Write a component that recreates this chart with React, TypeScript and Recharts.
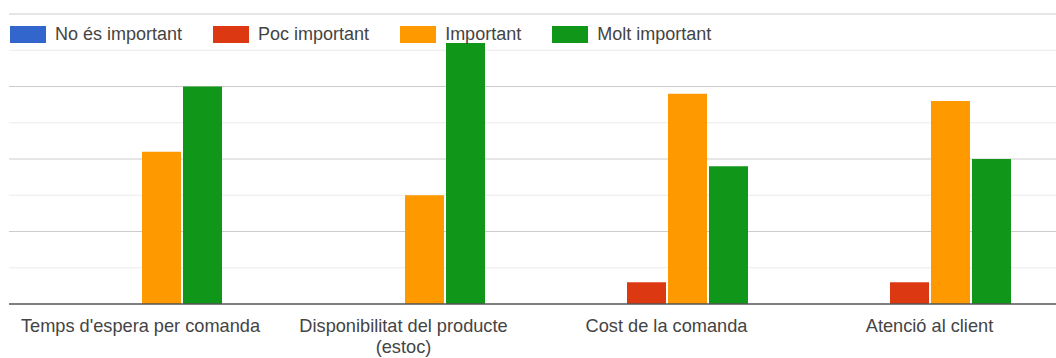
import { BarChart, Bar, XAxis, YAxis, CartesianGrid, Legend } from "recharts";

const categories = [
  "Temps d'espera per comanda",
  "Disponibilitat del producte (estoc)",
  "Cost de la comanda",
  "Atenció al client",
];

const noImportant = [0, 0, 0, 0];
const pocImportant = [0, 0, 3, 3];
const important = [21, 15, 29, 28];
const moltImportant = [30, 36, 19, 20];

const majorTicks = [10, 20, 30, 40];
const minorTicks = [5, 15, 25, 35];

const series = [
  { key: "no", name: "No és important", color: "#3366cc", values: noImportant },
  { key: "poc", name: "Poc important", color: "#dc3912", values: pocImportant },
  { key: "imp", name: "Important", color: "#ff9900", values: important },
  { key: "molt", name: "Molt important", color: "#109618", values: moltImportant },
];

const data = categories.map((name, i) => {
  const row: Record<string, string | number> = { name };
  series.forEach((s) => {
    row[s.key] = s.values[i];
  });
  return row;
});

const FONT = "'Liberation Sans', Arial, sans-serif";
const TEXT = "#444";

// word-wrap long category names onto several lines
function wrap(label: string, maxChars = 28): string[] {
  const lines: string[] = [];
  let cur = "";
  for (const word of label.split(" ")) {
    const next = cur ? cur + " " + word : word;
    if (next.length > maxChars && cur) {
      lines.push(cur);
      cur = word;
    } else {
      cur = next;
    }
  }
  if (cur) lines.push(cur);
  return lines;
}

function CategoryTick({ x, y, payload }: any) {
  const lines = wrap(payload.value);
  return (
    <text x={x} y={y} textAnchor="middle" fill={TEXT} fontSize={18.2} fontFamily={FONT}>
      {lines.map((line, i) => (
        <tspan key={i} x={x} dy={i === 0 ? 20 : 21}>
          {line}
        </tspan>
      ))}
    </text>
  );
}

function LegendRow() {
  return (
    <div style={{ display: "flex", alignItems: "center", fontFamily: FONT, fontSize: 18, color: TEXT }}>
      {series.map((s) => (
        <div key={s.key} style={{ display: "flex", alignItems: "center", marginRight: 31 }}>
          <span style={{ width: 36, height: 17, background: s.color, marginRight: 9, display: "inline-block" }} />
          <span style={{ whiteSpace: "nowrap" }}>{s.name}</span>
        </div>
      ))}
    </div>
  );
}

export default function App() {
  return (
    <div style={{ position: "absolute", left: 0, top: 0, width: 1056, height: 358, overflow: "hidden", background: "#fff" }}>
      <BarChart
        width={1062}
        height={358}
        data={data}
        margin={{ top: 14, right: 1, left: 9, bottom: 24 }}
        barCategoryGap={0}
        barGap={2}
        barSize={39}
      >
        <CartesianGrid vertical={false} horizontalValues={minorTicks} stroke="#ebebeb" />
        <CartesianGrid vertical={false} horizontalValues={majorTicks} stroke="#cccccc" />
        <YAxis hide domain={[0, 40]} ticks={[0, 5, 10, 15, 20, 25, 30, 35, 40]} />
        <XAxis
          dataKey="name"
          height={30}
          tickLine={false}
          axisLine={{ stroke: "#555", strokeWidth: 1.5 }}
          tick={<CategoryTick />}
          interval={0}
        />
        <Legend
          layout="horizontal"
          align="center"
          verticalAlign="middle"
          wrapperStyle={{ top: 24, left: 10, width: "auto" }}
          content={() => <LegendRow />}
        />
        {series.map((s) => (
          <Bar key={s.key} dataKey={s.key} name={s.name} fill={s.color} isAnimationActive={false} />
        ))}
      </BarChart>
    </div>
  );
}
